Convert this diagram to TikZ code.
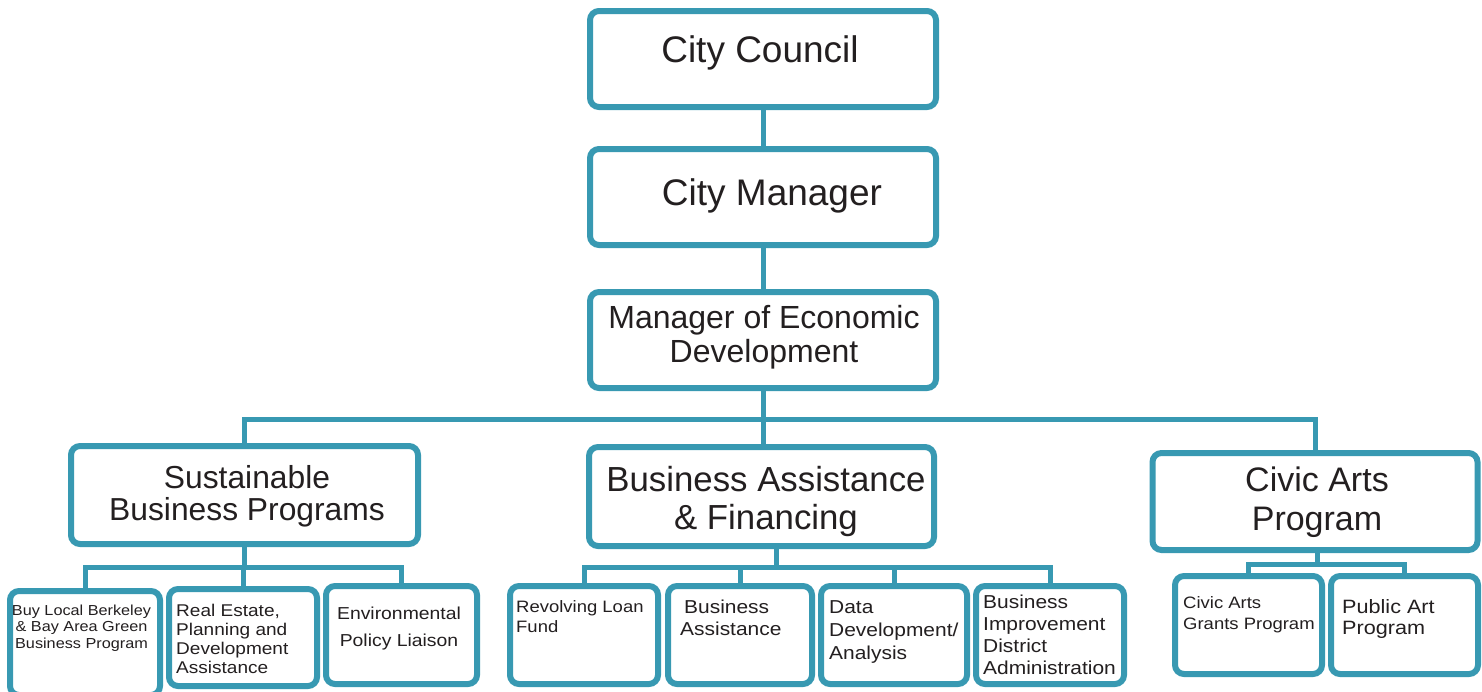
\documentclass[tikz,border=0pt]{standalone}
\usepackage{fontspec}
\setmainfont{Liberation Sans}
\newfontfamily\widefont[FakeStretch=1.12]{Liberation Sans}
\definecolor{orgline}{RGB}{56,153,178}
\definecolor{orgtext}{RGB}{35,31,32}
\newcommand{\fs}[2]{\fontsize{#1}{#2}\selectfont}
\begin{document}
\begin{tikzpicture}[x=1pt,y=-1pt,line join=miter]
	\tikzset{orgbox/.style={draw=orgline,line width=6pt,rounded corners=9pt,fill=white,inner sep=0pt},
		conn/.style={draw=orgline,line width=5pt},
		txt/.style={inner sep=0pt,text=orgtext,anchor=north,align=center},
		smalltxt/.style={inner sep=0pt,text=orgtext,anchor=north west,align=left}}
	\useasboundingbox (0,0) rectangle (1482,691);
	% top of the chart
	\node[orgbox,minimum width=346pt,minimum height=96pt] (council) at (763,59) {};
	\node[orgbox,minimum width=346pt,minimum height=96pt] (manager) at (763,197) {};
	\node[orgbox,minimum width=346pt,minimum height=96pt] (econ) at (763,340) {};
	% divisions
	\node[orgbox,minimum width=347pt,minimum height=98pt] (sust) at (244.5,495) {};
	\node[orgbox,minimum width=345pt,minimum height=99pt] (bizfin) at (761.5,496.5) {};
	\node[orgbox,minimum width=325pt,minimum height=97pt] (civic) at (1315,501.5) {};
	% programs
	\node[orgbox,minimum width=150pt,minimum height=104pt] (buylocal) at (85,643) {};
	\node[orgbox,minimum width=148pt,minimum height=97pt] (realest) at (243,637.5) {};
	\node[orgbox,minimum width=151pt,minimum height=98pt] (envpol) at (401.5,635) {};
	\node[orgbox,minimum width=148pt,minimum height=98pt] (revolving) at (584,635) {};
	\node[orgbox,minimum width=144pt,minimum height=98pt] (bizassist) at (740,635) {};
	\node[orgbox,minimum width=146pt,minimum height=98pt] (data) at (894,635) {};
	\node[orgbox,minimum width=148pt,minimum height=98pt] (bid) at (1050,635) {};
	\node[orgbox,minimum width=147pt,minimum height=98pt] (grants) at (1248.5,625) {};
	\node[orgbox,minimum width=147pt,minimum height=98pt] (publicart) at (1404.5,625) {};
	% lines
	\coordinate (topbus) at (763,419);
	\coordinate (sbus) at (245,567);
	\coordinate (mbus) at (776,567);
	\coordinate (cbus) at (1317,564);
	\draw[conn] (council) -- (manager);
	\draw[conn] (manager) -- (econ);
	\draw[conn] (econ.south) -- (econ.south |- bizfin.north);
	\draw[conn] (sust.north) |- (topbus) -| (civic.north);
	\draw[conn] (sust.south) -- (sust.south |- sbus);
	\draw[conn] (buylocal.north) |- (sbus) -| (envpol.north);
	\draw[conn] (realest.north) -- (realest.north |- sbus);
	\draw[conn] (bizfin.south -| mbus) -- (mbus);
	\draw[conn] (revolving.north) |- (mbus) -| (bid.north);
	\draw[conn] (bizassist.north) -- (bizassist.north |- mbus);
	\draw[conn] (data.north) -- (data.north |- mbus);
	\draw[conn] (civic.south -| cbus) -- (cbus);
	\draw[conn] (grants.north) |- (cbus) -| (publicart.north);
	% texts
	\node[txt,font=\fs{37}{44}] (t-council) at (760,35) {City Council};
	\node[txt,font=\fs{37}{44}] (t-manager) at (772,178.5) {City Manager};
	\node[txt,font=\fs{32}{34}] (t-econ) at (764,305) {Manager of Economic\\Development};
	\node[txt,font=\fs{31.8}{32}] (t-sust) at (247,465.5) {Sustainable\\Business Programs};
	\node[txt,font=\fs{34.8}{38}] (t-bizfin) at (766,466) {Business Assistance\\\& Financing};
	\node[txt,font=\fs{34}{39}] (t-civic) at (1317,466.5) {Civic Arts\\Program};
	\node[txt,font=\widefont\fs{14.5}{16.5}] (t-buylocal) at (81.5,604.5) {Buy Local Berkeley\\\& Bay Area Green\\Business Program};
	\node[smalltxt,font=\widefont\fs{17}{19}] (t-realest) at (176,603.5) {Real Estate,\\Planning and\\Development\\Assistance};
	\node[txt,font=\widefont\fs{17.3}{27}] (t-envpol) at (399,607) {Environmental\\Policy Liaison};
	\node[smalltxt,font=\widefont\fs{16.5}{20}] (t-revolving) at (516,600) {Revolving Loan\\Fund};
	\node[smalltxt,font=\widefont\fs{18.7}{22}] (t-bizassist) at (680,599.6) {\hspace*{4pt}Business\\Assistance};
	\node[smalltxt,font=\widefont\fs{18.7}{23}] (t-data) at (829,600.6) {Data\\Development/\\Analysis};
	\node[smalltxt,font=\widefont\fs{18.7}{22}] (t-bid) at (983,594.6) {Business\\Improvement\\District\\Administration};
	\node[smalltxt,font=\widefont\fs{16.5}{21}] (t-grants) at (1183,596.2) {Civic Arts\\Grants Program};
	\node[smalltxt,font=\widefont\fs{19.3}{21}] (t-publicart) at (1342,599.2) {Public Art\\Program};
\end{tikzpicture}
\end{document}
